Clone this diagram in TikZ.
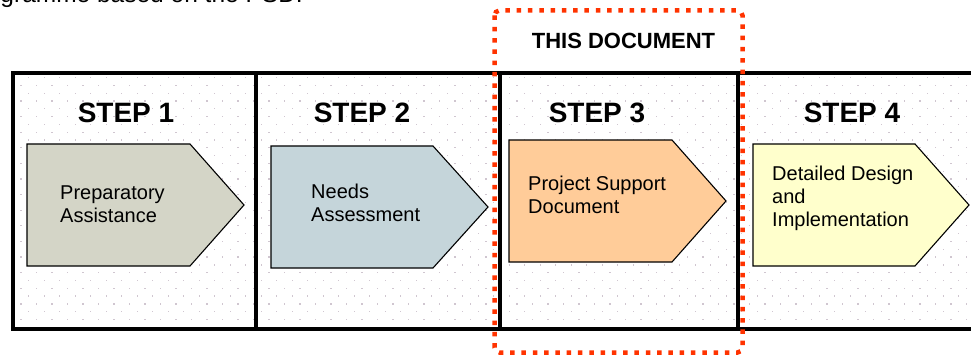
\documentclass[tikz,border=0pt]{standalone}
\usepackage{fontspec}
\setmainfont{Liberation Sans}
\definecolor{dotc}{RGB}{208,198,208}
\definecolor{redbox}{RGB}{255,51,0}
\definecolor{fillA}{RGB}{212,213,199}
\definecolor{fillB}{RGB}{197,213,218}
\definecolor{fillC}{RGB}{255,204,153}
\definecolor{fillD}{RGB}{255,255,204}
\begin{document}
\begin{tikzpicture}[x=1pt,y=-1pt,
  frame/.style={draw=black,line width=4pt},
  arrowshape/.style={draw=black,line width=1.1pt,line join=miter},
  lbl/.style={font=\fontsize{20}{22.7}\selectfont,align=left,inner sep=0pt,anchor=base west},
  head/.style={font=\fontsize{28}{32}\selectfont\bfseries,inner sep=0pt,anchor=base},
  doclbl/.style={font=\fontsize{22}{26}\selectfont\bfseries,inner sep=0pt,anchor=base},
  toptext/.style={font=\fontsize{24.5}{28}\selectfont,inner sep=0pt,anchor=base east},
  reddots/.style={draw=redbox,line width=4.5pt,dash pattern=on 4.5pt off 6.8pt,rounded corners=5pt}]
\useasboundingbox (0,0) rectangle (971,355);
\clip (0,0) rectangle (971,355);
\fill[white] (0,0) rectangle (971,355);
% dotted background
\foreach \r in {0,...,31}{
  \pgfmathsetmacro\yy{77+7.8*\r}
  \pgfmathsetmacro\xo{12.5+7.75*mod(\r,2)}
  \foreach \c in {0,...,61}{
    \fill[dotc] (\xo+15.5*\c,\yy) rectangle +(1.3,1.3);
  }
}
% clipped caption line at the top
\node[toptext] (cap) at (303,3) {gramme based on the PSD.};
% arrows
\draw[arrowshape,fill=fillA] (27,144) -- (190,144) -- (244,205) -- (190,266) -- (27,266) -- cycle;
\draw[arrowshape,fill=fillB] (271,146) -- (433,146) -- (488,207) -- (433,268) -- (271,268) -- cycle;
\draw[arrowshape,fill=fillC] (509,140) -- (672,140) -- (726,201) -- (672,262) -- (509,262) -- cycle;
\draw[arrowshape,fill=fillD] (753,144) -- (915,144) -- (969,205) -- (915,266) -- (753,266) -- cycle;
% frame
\draw[frame] (990,73) -- (13,73) -- (13,329) -- (990,329);
\draw[frame] (255.5,73) -- (255.5,329);
\draw[frame] (499.5,73) -- (499.5,329);
\draw[frame] (737.5,73) -- (737.5,329);
% headings
\node[head] (h1) at (126,123) {STEP 1};
\node[head] (h2) at (362,123) {STEP 2};
\node[head] (h3) at (597,123) {STEP 3};
\node[head] (h4) at (852,123) {STEP 4};
% labels (base anchor = baseline of the last line)
\node[lbl] (t1) at (60,222.7) {Preparatory\\Assistance};
\node[lbl] (t2) at (311,221.7) {Needs\\Assessment};
\node[lbl] (t3) at (528,213.7) {Project Support\\Document};
\node[lbl] (t4) at (772,226.4) {Detailed Design\\and\\Implementation};
% this document box
\draw[reddots] (494.5,10.5) rectangle (742.5,352.5);
\node[doclbl] (doc) at (623.5,48.3) {THIS DOCUMENT};
\end{tikzpicture}
\end{document}
